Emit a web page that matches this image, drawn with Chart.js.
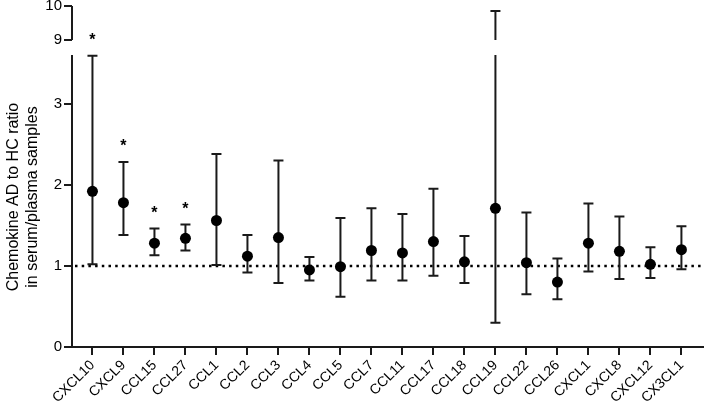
<!DOCTYPE html>
<html>
<head>
<meta charset="utf-8">
<script src="https://cdn.jsdelivr.net/npm/chart.js@4.4.0/dist/chart.umd.min.js"></script>
<style>
  body { margin: 0; background: #fff; }
</style>
</head>
<body>
<canvas id="chart" width="708" height="410"></canvas>
<script>
// ratio AD / HC per chemokine, point + interval
var labels = ["CXCL10", "CXCL9", "CCL15", "CCL27", "CCL1", "CCL2", "CCL3", "CCL4", "CCL5", "CCL7",
              "CCL11", "CCL17", "CCL18", "CCL19", "CCL22", "CCL26", "CXCL1", "CXCL8", "CXCL12", "CX3CL1"];
var ratio  = [1.92, 1.78, 1.28, 1.34, 1.56, 1.12, 1.35, 0.95, 0.99, 1.19,
              1.16, 1.30, 1.05, 1.71, 1.04, 0.80, 1.28, 1.18, 1.02, 1.20];
var ciLow  = [1.02, 1.38, 1.13, 1.19, 1.01, 0.92, 0.79, 0.82, 0.62, 0.82,
              0.82, 0.88, 0.79, 0.30, 0.65, 0.59, 0.93, 0.84, 0.85, 0.96];
var ciHigh = [3.59, 2.28, 1.46, 1.51, 2.38, 1.38, 2.30, 1.11, 1.59, 1.71,
              1.64, 1.95, 1.37, 9.85, 1.66, 1.09, 1.77, 1.61, 1.23, 1.49];
var stars  = ["*", "*", "*", "*", "", "", "", "", "", "",
              "", "", "", "", "", "", "", "", "", ""];
var yTicks = [0, 1, 2, 3, 9, 10];

// broken y axis: 0..3.6 then 9..10 squeezed on top
var lowTop = 3.6, upStart = 9, gap = 0.185, upUnit = 0.42;
function fwd(v) {
    if (v <= lowTop) return v;
    if (v >= upStart) return lowTop + gap + (v - upStart) * upUnit;
    return lowTop + (v - lowTop) / (upStart - lowTop) * gap;
}

class BrokenScale extends Chart.LinearScale {
    getPixelForValue(value) {
        if (value === null || value === undefined) return NaN;
        var a = fwd(this.min), b = fwd(this.max);
        return this.getPixelForDecimal((fwd(value) - a) / (b - a));
    }
}
BrokenScale.id = 'broken';
BrokenScale.defaults = Chart.LinearScale.defaults;
Chart.register(BrokenScale);

var font = "'Liberation Sans', Arial, sans-serif";

var extras = {
    id: 'extras',
    beforeDatasetsDraw: function(chart) {
        var ctx = chart.ctx, x = chart.scales.x, y = chart.scales.y, a = chart.chartArea;
        ctx.save();
        // dotted reference at 1
        ctx.strokeStyle = '#000';
        ctx.lineWidth = 2.5;
        ctx.setLineDash([2.5, 4.2]);
        var y1 = y.getPixelForValue(1);
        ctx.beginPath();
        ctx.moveTo(a.left + 3, y1);
        ctx.lineTo(a.right, y1);
        ctx.stroke();
        ctx.setLineDash([]);

        // whiskers
        ctx.lineWidth = 2;
        ctx.strokeStyle = '#1a1a1a';
        labels.forEach(function(l, i) {
            var px = x.getPixelForValue(i);
            var lo = y.getPixelForValue(ciLow[i]);
            var hi = y.getPixelForValue(ciHigh[i]);
            ctx.beginPath();
            if (ciHigh[i] > upStart) {
                ctx.moveTo(px, lo);
                ctx.lineTo(px, y.getPixelForValue(lowTop));
                ctx.moveTo(px, y.getPixelForValue(upStart));
                ctx.lineTo(px, hi);
            } else {
                ctx.moveTo(px, lo);
                ctx.lineTo(px, hi);
            }
            ctx.moveTo(px - 5, lo); ctx.lineTo(px + 5, lo);
            ctx.moveTo(px - 5, hi); ctx.lineTo(px + 5, hi);
            ctx.stroke();
        });
        ctx.restore();
    },
    afterDraw: function(chart) {
        var ctx = chart.ctx, x = chart.scales.x, y = chart.scales.y, a = chart.chartArea;
        ctx.save();
        // y axis line, in two pieces
        ctx.strokeStyle = '#1a1a1a';
        ctx.lineWidth = 2;
        ctx.beginPath();
        ctx.moveTo(a.left, y.getPixelForValue(0) + 1);
        ctx.lineTo(a.left, y.getPixelForValue(lowTop));
        ctx.moveTo(a.left, y.getPixelForValue(upStart));
        ctx.lineTo(a.left, y.getPixelForValue(10));
        ctx.stroke();

        // significance marks
        ctx.fillStyle = '#000';
        ctx.font = "bold 16px " + font;
        ctx.textAlign = 'center';
        ctx.textBaseline = 'alphabetic';
        stars.forEach(function(s, i) {
            if (!s) return;
            ctx.fillText(s, x.getPixelForValue(i), y.getPixelForValue(ciHigh[i]) - 20 + 9);
        });

        // y title
        ctx.font = "16px " + font;
        ctx.translate(0, 197);
        ctx.rotate(-Math.PI / 2);
        ctx.textBaseline = 'middle';
        ctx.fillText("Chemokine AD to HC ratio", 0, 14);
        ctx.fillText("in serum/plasma samples", 0, 33);
        ctx.restore();
    }
};

new Chart(document.getElementById('chart'), {
    type: 'scatter',
    data: {
        datasets: [{
            data: labels.map(function(l, i) { return { x: i, y: ratio[i] }; }),
            pointRadius: 5.5,
            pointBackgroundColor: '#000',
            pointBorderWidth: 0
        }]
    },
    options: {
        responsive: false,
        animation: false,
        layout: { padding: { top: 6, right: 1, left: 0, bottom: 0 } },
        plugins: { legend: { display: false }, tooltip: { enabled: false } },
        scales: {
            x: {
                type: 'linear',
                min: -0.66,
                max: 19.68,
                afterBuildTicks: function(s) { s.ticks = labels.map(function(l, i) { return { value: i }; }); },
                afterFit: function(s) { s.height = 63; s.paddingLeft = 0; s.paddingRight = 0; },
                ticks: {
                    autoSkip: false,
                    minRotation: 45,
                    maxRotation: 45,
                    padding: 2,
                    color: '#000',
                    font: { family: font, size: 14 },
                    callback: function(v, i) { return labels[i]; }
                },
                grid: { drawOnChartArea: false, drawTicks: true, tickLength: 8, color: '#1a1a1a', lineWidth: 2 },
                border: { display: true, color: '#1a1a1a', width: 2 }
            },
            y: {
                type: 'broken',
                min: 0,
                max: 10,
                afterBuildTicks: function(s) { s.ticks = yTicks.map(function(v) { return { value: v }; }); },
                afterFit: function(s) { s.width = 72; s.paddingTop = 0; s.paddingBottom = 0; },
                ticks: {
                    padding: 2,
                    color: '#000',
                    font: { family: font, size: 15 },
                    callback: function(v) { return String(v); }
                },
                grid: { drawOnChartArea: false, drawTicks: true, tickLength: 8, color: '#1a1a1a', lineWidth: 2 },
                border: { display: false }
            }
        }
    },
    plugins: [extras]
});
</script>
</body>
</html>
